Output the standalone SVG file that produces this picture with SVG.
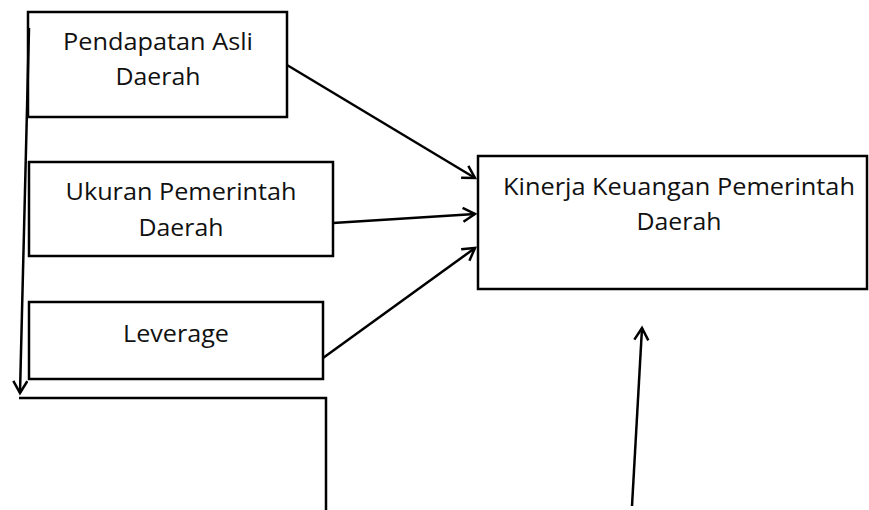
<svg xmlns="http://www.w3.org/2000/svg" width="869" height="510" viewBox="0 0 869 510">
<style>
.box{fill:#fff;stroke:#000;stroke-width:2.5}
.ln{fill:none;stroke:#000;stroke-width:2.5}
text{font-family:"Open Sans","Liberation Sans",sans-serif;font-size:24px;fill:#111;text-anchor:middle}
</style>
<defs>
<marker id="ah" markerWidth="20" markerHeight="20" refX="14" refY="8" orient="auto" markerUnits="userSpaceOnUse">
<path d="M2,1 L14,8 L2,15" fill="none" stroke="#000" stroke-width="2.5"/>
</marker>
</defs>
<rect width="869" height="510" fill="#fff"/>
<g id="n1"><rect class="box" x="28" y="12" width="259" height="105"/>
<text x="158" y="50" textLength="190" lengthAdjust="spacingAndGlyphs">Pendapatan Asli</text><text x="158" y="85" textLength="85" lengthAdjust="spacingAndGlyphs">Daerah</text></g>
<g id="n2"><rect class="box" x="29" y="162" width="304" height="94"/>
<text x="181" y="200" textLength="231" lengthAdjust="spacingAndGlyphs">Ukuran Pemerintah</text><text x="181" y="236" textLength="85" lengthAdjust="spacingAndGlyphs">Daerah</text></g>
<g id="n3"><rect class="box" x="29" y="302" width="294" height="77"/>
<text x="176" y="342" textLength="106" lengthAdjust="spacingAndGlyphs">Leverage</text></g>
<g id="n4"><rect class="box" x="478" y="156" width="389" height="133"/>
<text x="679" y="195" textLength="352" lengthAdjust="spacingAndGlyphs">Kinerja Keuangan Pemerintah</text><text x="679" y="230" textLength="85" lengthAdjust="spacingAndGlyphs">Daerah</text></g>
<g id="n5"><path class="ln" d="M19,398 H326 V510"/></g>
<g id="connectors">
<line class="ln" x1="287" y1="65" x2="475" y2="178" marker-end="url(#ah)"/>
<line class="ln" x1="333" y1="223" x2="475" y2="214" marker-end="url(#ah)"/>
<line class="ln" x1="323" y1="358" x2="475" y2="248" marker-end="url(#ah)"/>
<line class="ln" x1="632" y1="506" x2="642" y2="328" marker-end="url(#ah)"/>
<line class="ln" x1="29" y1="28" x2="20" y2="393" marker-end="url(#ah)"/>
</g>
</svg>
